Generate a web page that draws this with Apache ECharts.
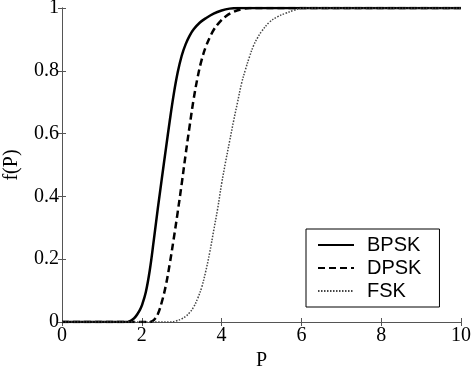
<!DOCTYPE html>
<html>
<head>
<meta charset="utf-8">
<script src="https://cdn.jsdelivr.net/npm/echarts@6/dist/echarts.min.js"></script>
<style>
  html, body { margin: 0; padding: 0; background: #fff; }
  #chart { width: 471px; height: 369px; }
</style>
</head>
<body>
<div id="chart"></div>
<script>
// values, [P, f(P)]
const bpsk = [
  [0, 0], [1.65, 0], [1.75, 0.006], [1.85, 0.018], [1.95, 0.038], [2.0, 0.052],
  [2.1, 0.095], [2.2, 0.165], [2.3, 0.26], [2.4, 0.36], [2.5, 0.455],
  [2.6, 0.548], [2.7, 0.64], [2.8, 0.725], [2.9, 0.795], [3.0, 0.848],
  [3.1, 0.885], [3.2, 0.912], [3.3, 0.932], [3.45, 0.953], [3.6, 0.967],
  [3.8, 0.982], [4.0, 0.992], [4.2, 0.998], [4.4, 1], [10, 1],
];
const dpsk = [
  [0, 0], [2.2, 0], [2.3, 0.006], [2.4, 0.025], [2.5, 0.063], [2.6, 0.115],
  [2.7, 0.185], [2.8, 0.265], [2.9, 0.35], [3.0, 0.44], [3.1, 0.535],
  [3.2, 0.625], [3.3, 0.71], [3.4, 0.78], [3.5, 0.835], [3.6, 0.875],
  [3.7, 0.905], [3.8, 0.93], [3.95, 0.955], [4.1, 0.973], [4.3, 0.988],
  [4.5, 0.996], [4.7, 1], [10, 1],
];
const fsk = [
  [0, 0], [2.7, 0], [2.85, 0.003], [3.0, 0.01], [3.1, 0.018], [3.2, 0.03],
  [3.3, 0.048], [3.4, 0.075], [3.5, 0.11], [3.6, 0.16], [3.7, 0.22],
  [3.8, 0.29], [3.9, 0.36], [4.0, 0.44], [4.1, 0.51], [4.2, 0.575],
  [4.3, 0.64], [4.4, 0.7], [4.5, 0.76], [4.6, 0.805], [4.7, 0.845],
  [4.8, 0.88], [4.9, 0.905], [5.0, 0.925], [5.2, 0.955], [5.4, 0.972],
  [5.6, 0.983], [5.8, 0.992], [6.05, 1], [10, 1],
];
const seriesNames = ['BPSK', 'DPSK', 'FSK'];

const serif = 'Liberation Serif';
const boxLine = { show: true, lineStyle: { color: '#555', width: 1 } };
const tick = { show: true, inside: true, length: 4, lineStyle: { color: '#555' } };

const chart = echarts.init(document.getElementById('chart'));

const lineSeries = (name, data, style) => ({
  name,
  type: 'line',
  data,
  showSymbol: false,
  symbol: 'none',
  smooth: 0.4,
  lineStyle: style,
  itemStyle: { color: style.color },
  animation: false,
});

chart.setOption({
  backgroundColor: '#fff',
  animation: false,
  grid: { left: 62, right: 10, top: 8, bottom: 47, outerBoundsMode: 'none', containLabel: false },
  legend: {
    data: seriesNames,
    orient: 'vertical',
    left: 306,
    top: 229,
    padding: [6, 18, 6, 11],
    itemWidth: 36,
    itemHeight: 14,
    itemGap: 3,
    borderColor: '#000',
    borderWidth: 1,
    backgroundColor: '#fff',
    itemStyle: { opacity: 0 },
    textStyle: { fontFamily: 'Liberation Sans', fontSize: 20, color: '#000', padding: [0, 0, 0, 8] },
  },
  xAxis: [
    {
      type: 'value', min: 0, max: 10, interval: 2,
      name: 'P', nameLocation: 'middle', nameGap: 26,
      nameTextStyle: { fontFamily: serif, fontSize: 20, color: '#000' },
      axisLine: boxLine, axisTick: tick, splitLine: { show: false },
      axisLabel: { fontFamily: serif, fontSize: 20, color: '#000', margin: 4 },
    },
    {
      type: 'value', min: 0, max: 10, interval: 2, position: 'top',
      axisLine: boxLine, axisTick: tick, splitLine: { show: false },
      axisLabel: { show: false },
    },
  ],
  yAxis: [
    {
      type: 'value', min: 0, max: 1, interval: 0.2,
      name: 'f(P)', nameLocation: 'middle', nameGap: 40,
      nameTextStyle: { fontFamily: serif, fontSize: 20, color: '#000' },
      axisLine: boxLine, axisTick: tick, splitLine: { show: false },
      axisLabel: { fontFamily: serif, fontSize: 20, color: '#000', margin: 3 },
    },
    {
      type: 'value', min: 0, max: 1, interval: 0.2, position: 'right',
      axisLine: boxLine, axisTick: tick, splitLine: { show: false },
      axisLabel: { show: false },
    },
  ],
  series: [
    lineSeries('BPSK', bpsk, { color: '#000', width: 2.5, type: 'solid' }),
    lineSeries('DPSK', dpsk, { color: '#000', width: 2.5, type: [7, 4] }),
    lineSeries('FSK', fsk, { color: '#444', width: 1.5, type: [1.5, 1.5] }),
  ],
});
</script>
</body>
</html>
